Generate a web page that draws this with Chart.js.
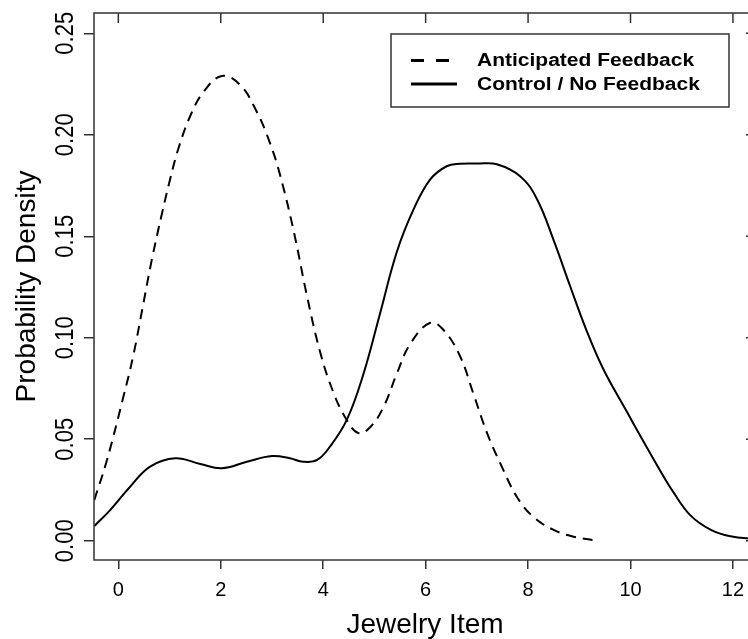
<!DOCTYPE html>
<html>
<head>
<meta charset="utf-8">
<script src="https://cdn.jsdelivr.net/npm/chart.js@4.4.1/dist/chart.umd.min.js"></script>
<style>
  html, body { margin: 0; padding: 0; background: #fff; overflow: hidden; }
</style>
</head>
<body>
<canvas id="myChart" width="760" height="639"></canvas>
<script>
let seriesNames = ['Anticipated Feedback', 'Control / No Feedback'];

let antX = [-0.47, -0.23, 0.10, 0.29, 0.49, 0.65, 0.85, 1.01, 1.17, 1.40, 1.66, 2.02, 2.38, 2.70, 2.96, 3.16, 3.42, 3.68, 3.94, 4.20, 4.46, 4.69, 4.92, 5.18, 5.44, 5.70, 6.09, 6.35, 6.67, 6.93, 7.20, 7.46, 7.78, 8.10, 8.50, 8.89, 9.28];
let antY = [0.020, 0.039, 0.071, 0.091, 0.117, 0.138, 0.161, 0.178, 0.193, 0.209, 0.221, 0.229, 0.2245, 0.2115, 0.196, 0.180, 0.153, 0.121, 0.093, 0.073, 0.0595, 0.053, 0.056, 0.066, 0.0825, 0.097, 0.1074, 0.1038, 0.091, 0.0726, 0.053, 0.038, 0.0217, 0.0118, 0.0053, 0.002, 0.0003];

let ctrlX = [-0.47, -0.16, 0.23, 0.62, 1.11, 1.60, 2.02, 2.51, 3.00, 3.35, 3.61, 3.88, 4.13, 4.46, 4.79, 5.11, 5.44, 5.76, 6.09, 6.41, 6.67, 7.00, 7.39, 7.85, 8.17, 8.50, 8.82, 9.15, 9.47, 9.93, 10.19, 10.58, 10.84, 11.17, 11.56, 11.95, 12.45];
let ctrlY = [0.0072, 0.0151, 0.0266, 0.0365, 0.0406, 0.0378, 0.0357, 0.0389, 0.0417, 0.0406, 0.0389, 0.0398, 0.0463, 0.0595, 0.0825, 0.112, 0.1425, 0.163, 0.178, 0.1845, 0.1857, 0.1858, 0.1855, 0.1795, 0.1685, 0.148, 0.1255, 0.103, 0.0845, 0.0635, 0.0517, 0.0345, 0.0238, 0.0125, 0.0055, 0.0022, 0.0008];

let xTicks = [0, 2, 4, 6, 8, 10, 12];
let yTicks = [0.00, 0.05, 0.10, 0.15, 0.20, 0.25];

function pairs(xs, ys) {
    return xs.map((x, i) => ({ x: x, y: ys[i] }));
}

// box, inward ticks on top/right, rotated y labels and the legend
let rFrame = {
    id: 'rFrame',
    afterDraw(chart) {
        let ctx = chart.ctx;
        let a = chart.chartArea;
        let xs = chart.scales.x;
        let ys = chart.scales.y;
        ctx.save();
        ctx.strokeStyle = '#333';
        ctx.lineWidth = 1.5;
        ctx.strokeRect(a.left, a.top, a.right - a.left, a.bottom - a.top);

        ctx.beginPath();
        xs.ticks.forEach(t => {
            let px = xs.getPixelForValue(t.value);
            ctx.moveTo(px, a.top);
            ctx.lineTo(px, a.top + 10);
        });
        ys.ticks.forEach(t => {
            let py = ys.getPixelForValue(t.value);
            ctx.moveTo(a.right, py);
            ctx.lineTo(a.right - 10, py);
        });
        ctx.stroke();

        // y tick labels, rotated like R's las=0
        ctx.fillStyle = '#000';
        ctx.font = '22px "Liberation Sans", Arial, sans-serif';
        ctx.textAlign = 'center';
        ctx.textBaseline = 'middle';
        ys.ticks.forEach(t => {
            let py = ys.getPixelForValue(t.value);
            ctx.save();
            ctx.translate(66, py);
            ctx.scale(1.13, 1);
            ctx.rotate(-Math.PI / 2);
            ctx.fillText(t.value.toFixed(2), 0, 0);
            ctx.restore();
        });

        // legend
        ctx.strokeStyle = '#333';
        ctx.lineWidth = 1.5;
        ctx.strokeRect(391, 34, 338, 73);
        let rows = [60.5, 84];
        chart.data.datasets.forEach((ds, i) => {
            ctx.beginPath();
            ctx.strokeStyle = '#000';
            ctx.lineWidth = 2.8;
            ctx.setLineDash(i === 0 ? [13, 12] : []);
            ctx.moveTo(411, rows[i]);
            ctx.lineTo(i === 0 ? 449 : 457, rows[i]);
            ctx.stroke();
            ctx.setLineDash([]);
            ctx.save();
            ctx.translate(477, rows[i] + 1);
            ctx.scale(1.2, 1);
            ctx.font = 'bold 17.5px "Liberation Sans", Arial, sans-serif';
            ctx.textAlign = 'left';
            ctx.fillText(ds.label, 0, 0);
            ctx.restore();
        });
        ctx.restore();
    }
};

let linechart = document.getElementById('myChart').getContext('2d');

let chart = new Chart(linechart, {
    type: 'line',
    data: {
        datasets: [{
            label: seriesNames[0],
            data: pairs(antX, antY),
            borderColor: '#000',
            borderWidth: 2,
            borderDash: [10, 7],
            pointRadius: 0,
            fill: false,
            tension: 0.4
        }, {
            label: seriesNames[1],
            data: pairs(ctrlX, ctrlY),
            borderColor: '#000',
            borderWidth: 2,
            pointRadius: 0,
            fill: false,
            tension: 0.4
        }]
    },
    options: {
        responsive: false,
        animation: false,
        layout: { padding: { top: 13, right: 4, left: 0, bottom: 0 } },
        plugins: {
            legend: { display: false },
            tooltip: { enabled: false }
        },
        scales: {
            x: {
                type: 'linear',
                min: -0.475,
                max: 12.45,
                afterBuildTicks: s => { s.ticks = xTicks.map(v => ({ value: v })); },
                afterFit: s => { s.height = 79; },
                border: { display: false },
                grid: { drawOnChartArea: false, drawTicks: true, tickLength: 9, color: '#333', lineWidth: 1.5 },
                ticks: {
                    color: '#000',
                    padding: 9,
                    maxRotation: 0,
                    font: { family: '"Liberation Sans", Arial, sans-serif', size: 20 },
                    callback: v => String(v)
                },
                title: {
                    display: true,
                    text: 'Jewelry Item',
                    color: '#000',
                    font: { family: '"Liberation Sans", Arial, sans-serif', size: 28, lineHeight: 1 },
                    padding: { top: 0, bottom: 0 }
                }
            },
            y: {
                type: 'linear',
                min: -0.0095,
                max: 0.26,
                afterBuildTicks: s => { s.ticks = yTicks.map(v => ({ value: v })); },
                afterFit: s => { s.width = 94; },
                border: { display: false },
                grid: { drawOnChartArea: false, drawTicks: true, tickLength: 10, color: '#333', lineWidth: 1.5 },
                ticks: { display: false },
                title: {
                    display: true,
                    text: 'Probability Density',
                    color: '#000',
                    font: { family: '"Liberation Sans", Arial, sans-serif', size: 28, lineHeight: 1 },
                    padding: { top: 13, bottom: 0 }
                }
            }
        }
    },
    plugins: [rFrame]
});
</script>
</body>
</html>
